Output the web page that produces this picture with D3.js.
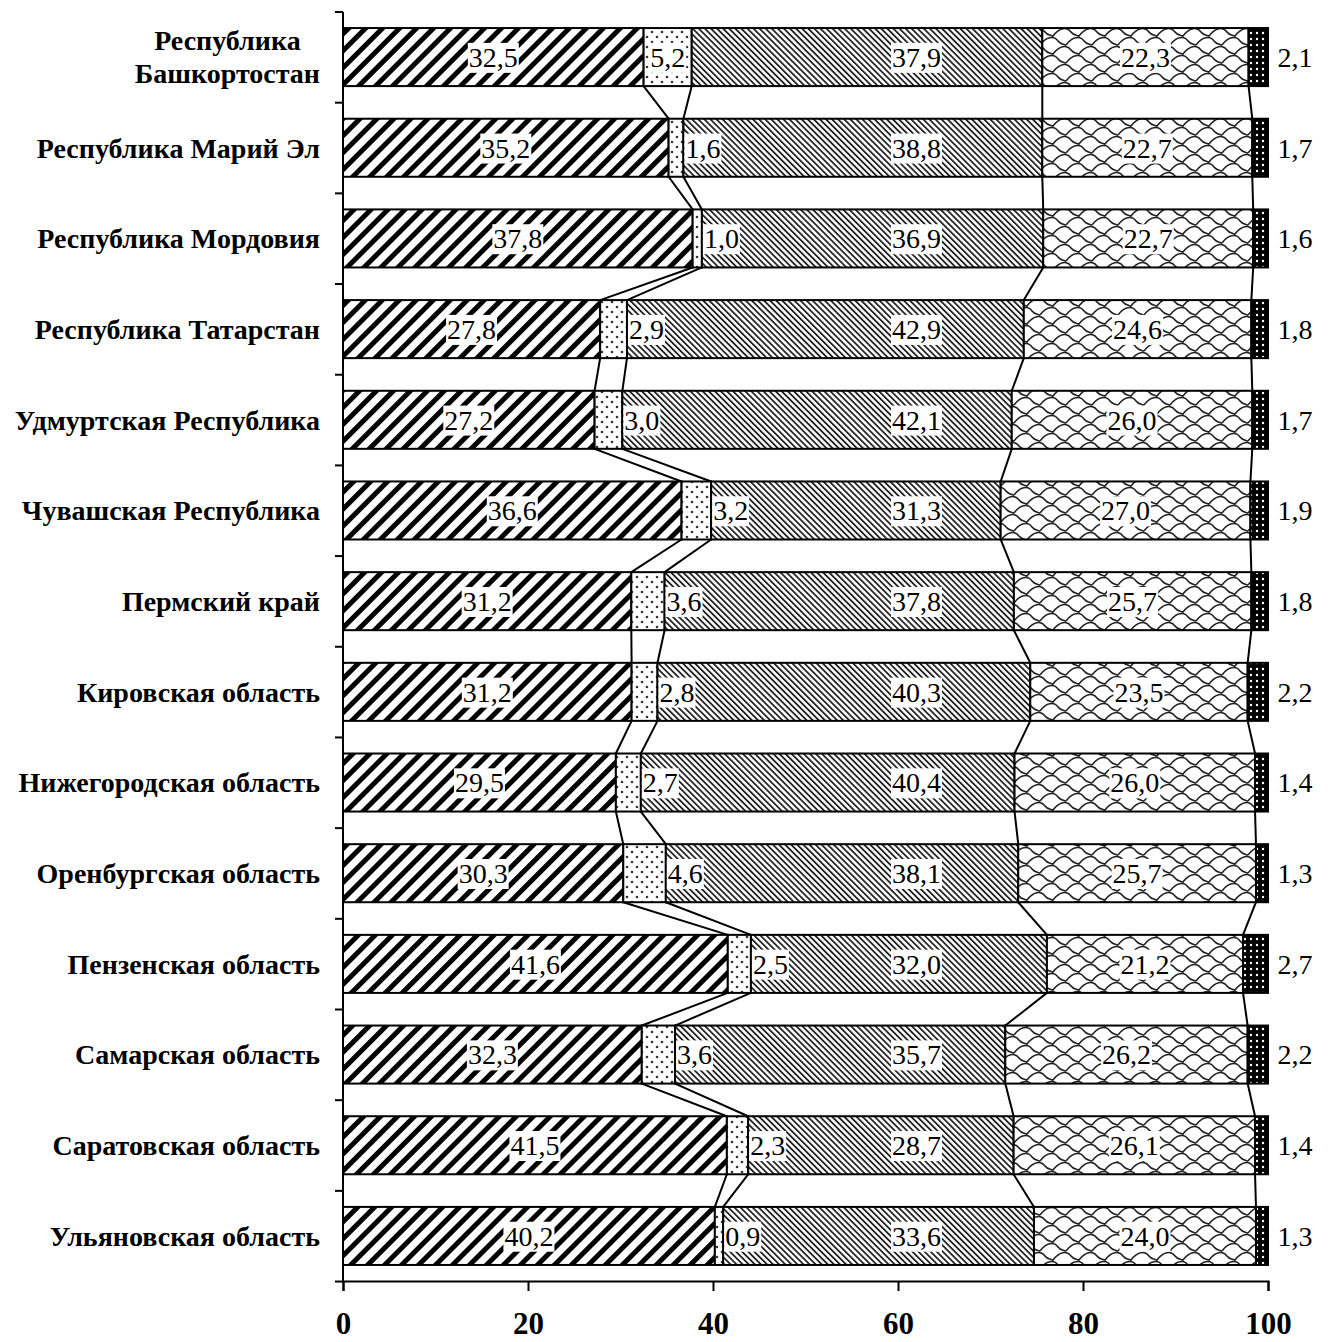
<!DOCTYPE html>
<html>
<head>
<meta charset="utf-8">
<script src="https://cdn.jsdelivr.net/npm/d3@7"></script>
<style>
  body { margin: 0; background: #fff; }
  svg text { font-family: "Liberation Serif", "Times New Roman", serif; }
</style>
</head>
<body>
<svg id="chart"></svg>
<script>
const regions = [
    "Республика\nБашкортостан", "Республика Марий Эл", "Республика Мордовия",
    "Республика Татарстан", "Удмуртская Республика", "Чувашская Республика",
    "Пермский край", "Кировская область", "Нижегородская область",
    "Оренбургская область", "Пензенская область", "Самарская область",
    "Саратовская область", "Ульяновская область"
];

const s1 = [32.5, 35.2, 37.8, 27.8, 27.2, 36.6, 31.2, 31.2, 29.5, 30.3, 41.6, 32.3, 41.5, 40.2];
const s2 = [5.2, 1.6, 1.0, 2.9, 3.0, 3.2, 3.6, 2.8, 2.7, 4.6, 2.5, 3.6, 2.3, 0.9];
const s3 = [37.9, 38.8, 36.9, 42.9, 42.1, 31.3, 37.8, 40.3, 40.4, 38.1, 32.0, 35.7, 28.7, 33.6];
const s4 = [22.3, 22.7, 22.7, 24.6, 26.0, 27.0, 25.7, 23.5, 26.0, 25.7, 21.2, 26.2, 26.1, 24.0];
const s5 = [2.1, 1.7, 1.6, 1.8, 1.7, 1.9, 1.8, 2.2, 1.4, 1.3, 2.7, 2.2, 1.4, 1.3];

const xTicks = [0, 20, 40, 60, 80, 100];

const width = 1328, height = 1342;
const plotLeft = 343, plotRight = 1268, plotTop = 12, plotBottom = 1281;

const keys = ["s1", "s2", "s3", "s4", "s5"];
const rows = regions.map((r, i) => ({ region: r, s1: s1[i], s2: s2[i], s3: s3[i], s4: s4[i], s5: s5[i] }));

const svg = d3.select("#chart").attr("width", width).attr("height", height);

// patterns
const defs = svg.append("defs");

const p1 = defs.append("pattern").attr("id", "p1")
    .attr("patternUnits", "userSpaceOnUse").attr("width", 12).attr("height", 12)
    .attr("patternTransform", "rotate(45)");
p1.append("rect").attr("width", 12).attr("height", 12).attr("fill", "#fff");
p1.append("rect").attr("x", 0).attr("width", 5).attr("height", 12).attr("fill", "#000");

const p2 = defs.append("pattern").attr("id", "p2")
    .attr("patternUnits", "userSpaceOnUse").attr("width", 10).attr("height", 10);
p2.append("rect").attr("width", 10).attr("height", 10).attr("fill", "#fff");
p2.append("circle").attr("cx", 2).attr("cy", 2).attr("r", 1.3).attr("fill", "#333");
p2.append("circle").attr("cx", 7).attr("cy", 7).attr("r", 1.3).attr("fill", "#333");

const p3 = defs.append("pattern").attr("id", "p3")
    .attr("patternUnits", "userSpaceOnUse").attr("width", 4.3).attr("height", 10)
    .attr("patternTransform", "rotate(-45)");
p3.append("rect").attr("width", 4.3).attr("height", 10).attr("fill", "#fff");
p3.append("rect").attr("width", 1.8).attr("height", 10).attr("fill", "#222");

const p4 = defs.append("pattern").attr("id", "p4")
    .attr("patternUnits", "userSpaceOnUse").attr("width", 26).attr("height", 18);
p4.append("rect").attr("width", 26).attr("height", 18).attr("fill", "#fff");
p4.append("path")
    .attr("d", "M0,9 C6,1 14,-1 18,5 C20,8 23,8 26,9 M-13,18 C-7,10 1,8 5,14 C7,17 10,17 13,18 C19,10 27,8 31,14 M-13,0 C-7,-8 1,-10 5,-4 C7,-1 10,-1 13,0 C19,-8 27,-10 31,-4")
    .attr("fill", "none").attr("stroke", "#222").attr("stroke-width", 1.6);

const p5 = defs.append("pattern").attr("id", "p5")
    .attr("patternUnits", "userSpaceOnUse").attr("width", 6).attr("height", 6);
p5.append("rect").attr("width", 6).attr("height", 6).attr("fill", "#000");
p5.append("circle").attr("cx", 3).attr("cy", 3).attr("r", 1.2).attr("fill", "#fff");

const fills = { s1: "url(#p1)", s2: "url(#p2)", s3: "url(#p3)", s4: "url(#p4)", s5: "url(#p5)" };

// scales
const x = d3.scaleLinear().domain([0, 100]).range([plotLeft, plotRight]);
const y = d3.scaleBand().domain(regions).range([plotTop, plotBottom])
    .paddingInner(0.36).paddingOuter(0.177);

const stack = d3.stack().keys(keys).offset(d3.stackOffsetExpand);
const series = stack(rows);

// connector lines between bars
const lineG = svg.append("g");
for (let k = 0; k < 4; k++) {
    const s = series[k];
    for (let i = 0; i < regions.length - 1; i++) {
        lineG.append("line")
            .attr("x1", x(s[i][1] * 100)).attr("y1", y(regions[i]) + y.bandwidth())
            .attr("x2", x(s[i + 1][1] * 100)).attr("y2", y(regions[i + 1]))
            .attr("stroke", "#000").attr("stroke-width", 2);
    }
}

// bars
svg.append("g").selectAll("g")
    .data(series)
    .join("g")
    .attr("fill", d => fills[d.key])
    .selectAll("rect")
    .data(d => d)
    .join("rect")
    .attr("x", d => x(d[0] * 100))
    .attr("y", d => y(d.data.region))
    .attr("width", d => x(d[1] * 100) - x(d[0] * 100))
    .attr("height", y.bandwidth())
    .attr("stroke", "#000")
    .attr("stroke-width", 2);

// value labels
const fmt = v => v.toFixed(1).replace(".", ",");
const labelG = svg.append("g");

function addLabel(xPos, yPos, txt, anchor, box) {
    const g = labelG.append("g");
    const t = g.append("text")
        .attr("x", xPos).attr("y", yPos)
        .attr("dy", "0.35em")
        .attr("text-anchor", anchor)
        .attr("font-size", 28)
        .text(txt);
    if (box) {
        const b = t.node().getBBox();
        g.insert("rect", "text")
            .attr("x", b.x - 1).attr("y", b.y + 1)
            .attr("width", b.width + 2).attr("height", b.height - 1)
            .attr("fill", "#fff");
    }
    return t;
}

series.forEach((s, k) => {
    s.forEach((d, i) => {
        const cy = y(regions[i]) + y.bandwidth() / 2;
        const x0 = x(d[0] * 100), x1 = x(d[1] * 100);
        const v = rows[i][s.key];
        if (k === 0 || k === 3) {
            addLabel((x0 + x1) / 2, cy, fmt(v), "middle", true);
        } else if (k === 1) {
            if (x1 - x0 > 44) addLabel((x0 + x1) / 2, cy, fmt(v), "middle", true);
            else addLabel(x1 + 2, cy, fmt(v), "start", true);
        } else if (k === 2) {
            addLabel(x(62), cy, fmt(v), "middle", true);
        } else {
            addLabel(x(100) + 27, cy, fmt(v), "middle", false);
        }
    });
});

// y axis
const axisG = svg.append("g");
axisG.append("line")
    .attr("x1", plotLeft).attr("x2", plotLeft).attr("y1", plotTop).attr("y2", plotBottom)
    .attr("stroke", "#000").attr("stroke-width", 2);
d3.range(regions.length + 1).forEach(k => {
    const yy = plotTop + k * y.step();
    axisG.append("line")
        .attr("x1", plotLeft - 8).attr("x2", plotLeft).attr("y1", yy).attr("y2", yy)
        .attr("stroke", "#000").attr("stroke-width", 2);
});

// category labels
regions.forEach(r => {
    const lines = r.split("\n");
    const cy = y(r) + y.bandwidth() / 2;
    const t = axisG.append("text")
        .attr("font-size", 28).attr("font-weight", "bold")
        .attr("text-anchor", lines.length > 1 ? "middle" : "end");
    lines.forEach((ln, j) => {
        t.append("tspan")
            .attr("x", 320)
            .attr("y", cy + (j - (lines.length - 1) / 2) * 33)
            .attr("dy", "0.35em")
            .text(ln);
    });
    if (lines.length > 1) {
        const w = t.node().getBBox().width;
        t.selectAll("tspan").attr("x", 320 - w / 2);
    }
});

// x axis
const xAxis = d3.axisBottom(x).tickValues(xTicks).tickSize(10);
const xg = svg.append("g").attr("transform", `translate(0,${plotBottom})`).call(xAxis);
xg.select(".domain").attr("stroke-width", 2);
xg.selectAll(".tick line").attr("stroke-width", 2);
xg.selectAll(".tick text")
    .attr("y", 53).attr("dy", 0)
    .attr("font-size", 31).attr("font-weight", "bold")
    .attr("font-family", "Liberation Serif, serif").attr("fill", "#000");
</script>
</body>
</html>
